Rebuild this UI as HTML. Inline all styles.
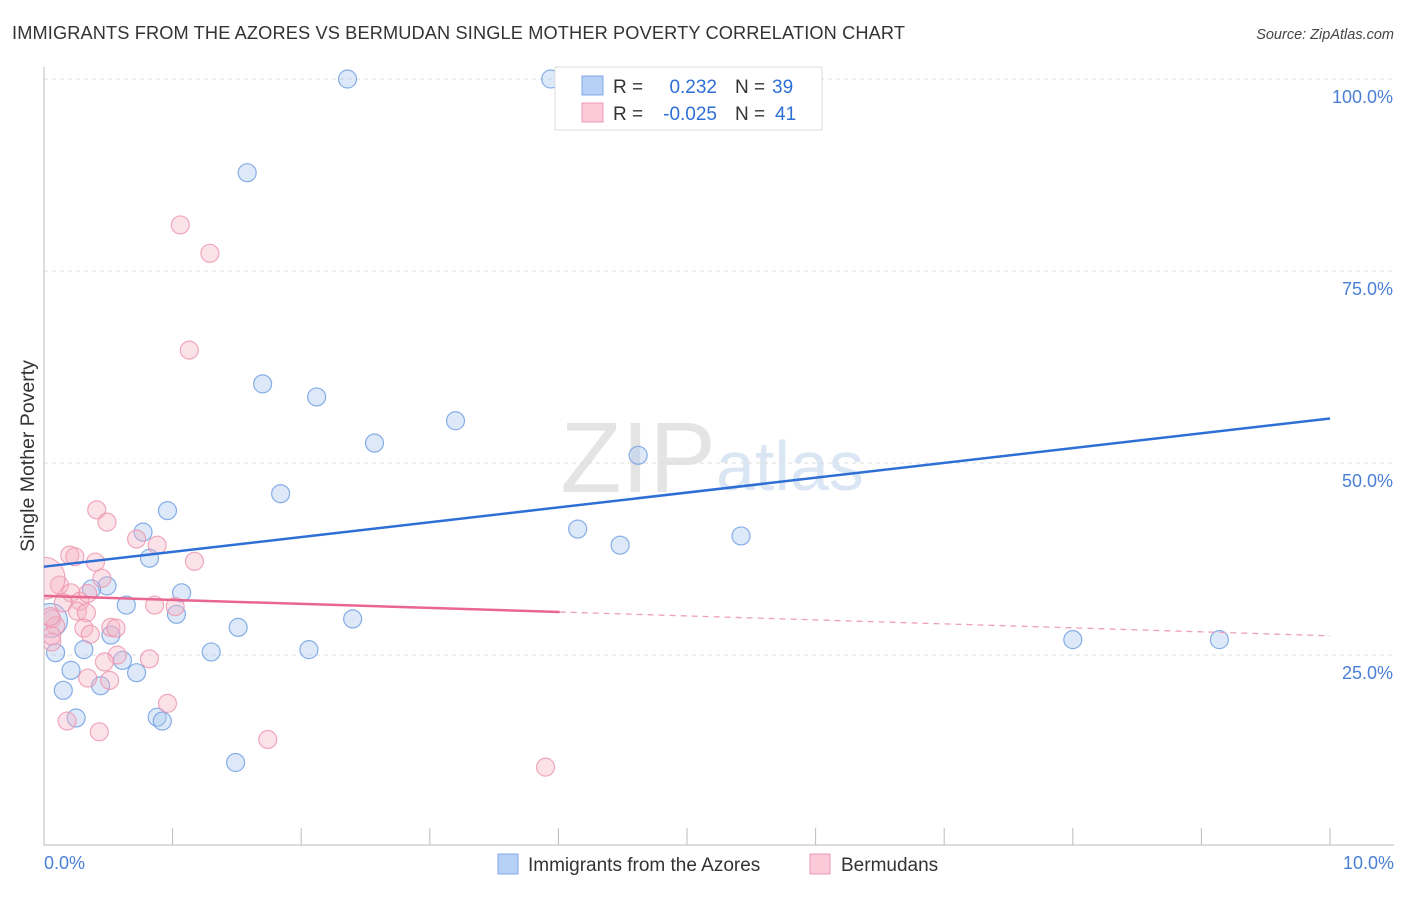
<!DOCTYPE html>
<html><head><meta charset="utf-8"><style>
body{margin:0;background:#fff;font-family:"Liberation Sans",sans-serif}
svg text{font-family:"Liberation Sans",sans-serif}
</style></head><body>
<svg id="c" width="1406" height="892" xmlns="http://www.w3.org/2000/svg">
<defs><clipPath id="plot"><rect x="44" y="60" width="1360" height="785"/></clipPath></defs>
<text x="12" y="39" font-size="18.2" fill="#333" textLength="893">IMMIGRANTS FROM THE AZORES VS BERMUDAN SINGLE MOTHER POVERTY CORRELATION CHART</text>
<text x="1394" y="39" font-size="14.5" fill="#444" text-anchor="end" font-style="italic">Source: ZipAtlas.com</text>
<text x="716" y="492" font-size="100" fill="#e4e4e4" text-anchor="end" font-family="Liberation Serif">ZIP</text>
<text x="716" y="490" font-size="70" fill="#dbe6f5">atlas</text>
<g id="grid"></g><g id="pts" clip-path="url(#plot)"></g><g id="lines"></g>
<text transform="translate(34,456) rotate(-90)" font-size="19.5" fill="#333" text-anchor="middle">Single Mother Poverty</text>
<text x="44" y="869" font-size="18" fill="#4a7fd6">0.0%</text>
<text x="1394" y="869" font-size="18" fill="#4a7fd6" text-anchor="end">10.0%</text>
<g>
<rect x="555" y="67" width="267" height="63" fill="#fff" stroke="#ddd"/>
<rect x="582" y="76" width="21" height="19" fill="#b7d0f5" stroke="#7fa8e8"/>
<rect x="582" y="103" width="21" height="19" fill="#fbc9d7" stroke="#ee9ab4"/>
<text x="613" y="93" font-size="19" fill="#333">R =</text>
<text x="717" y="93" font-size="19" fill="#2e6fd6" text-anchor="end">0.232</text>
<text x="735" y="93" font-size="19" fill="#333">N =</text>
<text x="772" y="93" font-size="19" fill="#2e6fd6">39</text>
<text x="613" y="120" font-size="19" fill="#333">R =</text>
<text x="717" y="120" font-size="19" fill="#2e6fd6" text-anchor="end">-0.025</text>
<text x="735" y="120" font-size="19" fill="#333">N =</text>
<text x="775" y="120" font-size="19" fill="#2e6fd6">41</text>
</g>
<g>
<rect x="498" y="854" width="20" height="20" fill="#b7d0f5" stroke="#7fa8e8"/>
<text x="528" y="871" font-size="19" fill="#333">Immigrants from the Azores</text>
<rect x="810" y="854" width="20" height="20" fill="#fbc9d7" stroke="#ee9ab4"/>
<text x="841" y="871" font-size="19" fill="#333">Bermudans</text>
</g>
</svg>
<script>
const yTicks=[25,50,75,100];
const xTicks=[0,1,2,3,4,5,6,7,8,9,10];
const blueX=[2.36,3.94,1.58,1.70,2.12,2.57,3.20,4.62,1.84,0.96,0.77,0.82,4.15,4.48,5.42,0.49,0.37,1.07,0.64,1.03,2.40,1.51,0.52,0.05,0.09,0.31,1.30,2.06,0.61,0.72,0.21,0.15,0.44,0.25,0.88,0.92,1.49,8.0,9.14];
const blueY=[100,100,87.8,60.3,58.6,52.6,55.5,51.0,46.0,43.8,41.0,37.6,41.4,39.3,40.5,34.0,33.6,33.1,31.5,30.3,29.7,28.6,27.6,29.5,25.3,25.7,25.4,25.7,24.3,22.7,23.0,20.4,21.0,16.8,16.9,16.4,11.0,27.0,27.0];
const pinkX=[1.06,1.29,1.13,0.41,0.49,0.72,0.88,0.20,0.24,0.40,1.17,0.45,0.12,0.0,0.21,0.28,0.34,0.15,0.26,0.86,1.02,0.33,0.06,0.09,0.52,0.56,0.31,0.36,0.06,0.82,0.57,0.47,0.34,0.51,0.96,0.18,0.43,1.74,3.90,0.05,0.06];
const pinkY=[81.0,77.3,64.7,43.9,42.3,40.1,39.3,38.0,37.8,37.1,37.2,35.0,34.1,35.0,33.1,32.0,33.0,31.8,30.7,31.5,31.3,30.5,29.7,28.8,28.6,28.5,28.5,27.7,26.7,24.5,25.0,24.1,22.0,21.7,18.7,16.4,15.0,14.0,10.4,30.0,27.5];
const blueLine=[[0,36.5],[10,55.8]];
const pinkLine=[[0,32.7],[4.01,30.6],[10,27.5]];
const X=v=>44+v*128.6, Y=v=>847-v*7.68;
const NS="http://www.w3.org/2000/svg";
function mk(t,a,p){const e=document.createElementNS(NS,t);for(const k in a)e.setAttribute(k,a[k]);p.appendChild(e);return e;}
const g=document.getElementById('grid');
yTicks.forEach(t=>{
  const l=mk('line',{x1:44,x2:1394,y1:Y(t),y2:Y(t),stroke:'#ddd','stroke-dasharray':'4,4'},g);
  
  
  const tx=mk('text',{x:1393,y:Y(t)+24,'font-size':18,fill:'#4a7fd6','text-anchor':'end'},g);
  tx.textContent=t.toFixed(1)+'%';
  
  
});
const ax=mk('line',{x1:44,x2:44,y1:67,y2:845,stroke:'#bbb'},g);


const bx=mk('line',{x1:44,x2:1394,y1:845,y2:845,stroke:'#bbb'},g);


xTicks.forEach(t=>{
  const l=mk('line',{x1:X(t),x2:X(t),y1:828,y2:845,stroke:'#bbb'},g);
  
  
});
const p=document.getElementById('pts');
function pts(xs,ys,fill,stroke,name,bigIdx,bigR){xs.forEach((x,i)=>{
  const c=mk('circle',{cx:X(x),cy:Y(ys[i]),r:i===bigIdx?bigR:9,fill:fill,'fill-opacity':0.4,stroke:stroke,'stroke-opacity':0.8,'stroke-width':1.2},p);
  
  
});}
pts(blueX,blueY,'#a9c8f0','#6a9be0','blue-point',23,17);
pts(pinkX,pinkY,'#f6b3c6','#ec93ae','pink-point',13,21);
const L=document.getElementById('lines');
const b=mk('line',{x1:X(blueLine[0][0]),y1:Y(blueLine[0][1]),x2:X(blueLine[1][0]),y2:Y(blueLine[1][1]),stroke:'#2e6fd6','stroke-width':2.5},L);


const ps=mk('line',{x1:X(pinkLine[0][0]),y1:Y(pinkLine[0][1]),x2:X(pinkLine[1][0]),y2:Y(pinkLine[1][1]),stroke:'#e8668f','stroke-width':2.5},L);


const pd=mk('line',{x1:X(pinkLine[1][0]),y1:Y(pinkLine[1][1]),x2:X(pinkLine[2][0]),y2:Y(pinkLine[2][1]),stroke:'#eda0b8','stroke-width':1.3,'stroke-dasharray':'6,5'},L);


</script>
</body></html>
